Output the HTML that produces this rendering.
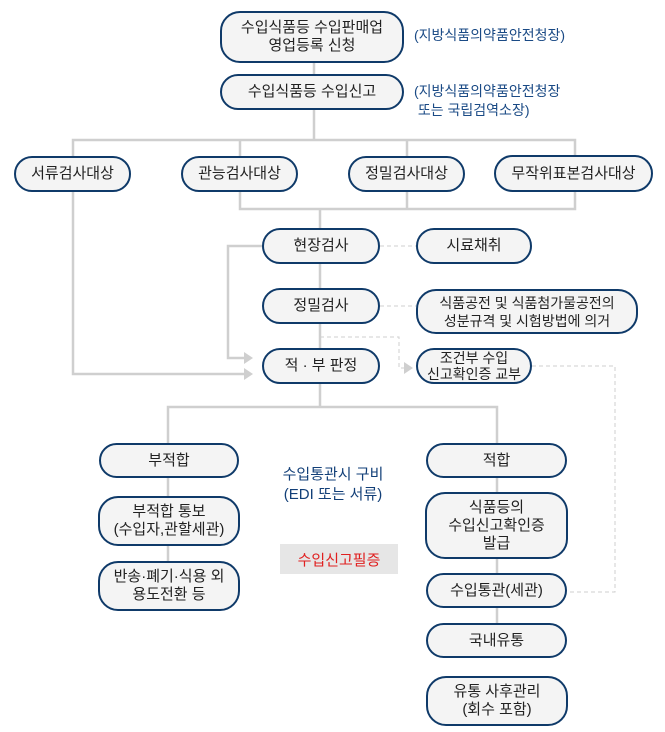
<!DOCTYPE html>
<html><head><meta charset="utf-8"><style>
body{margin:0;width:665px;height:732px;background:#fff;position:relative;overflow:hidden;font-family:"Liberation Sans","Noto Sans CJK KR",sans-serif;}
.b{position:absolute;box-sizing:border-box;border:2.5px solid #0f3a69;background:#f4f4f4;border-radius:20px;display:flex;align-items:center;justify-content:center;text-align:center;font-size:15px;line-height:18px;color:#222;}
.t{position:absolute;font-size:14px;line-height:19px;color:#1a4a85;}
svg{position:absolute;left:0;top:0}
</style></head><body>
<svg width="665" height="732">
<g stroke="#cfcfcf" stroke-width="2.5" fill="none">
<path d="M314 63V74M314 110V140M73 156V140H575V156M240 140V156M407 140V156M240 192V209H575V192M407 192V209M320 209V228M320 264V288M320 324V348"/>
<path d="M262 246H228V358H244M73 192V374H244M320 384V407M168 443V407H497V443M168 478V496M168 546V561M497 478V492M497 559V573M497 608V623"/>
</g>
<g fill="#cfcfcf"><path d="M244 352L253 358L244 364Z"/><path d="M244 368L253 374L244 380Z"/><path d="M404 362L413 368L404 374Z"/></g>
<g stroke="#cfcfcf" stroke-width="1" stroke-dasharray="4,3" fill="none">
<path d="M380 246H416M380 306H416M320 337H399V368H404M532 366H615V592H567"/>
</g>
</svg>
<div class="b" style="left:220px;top:11px;width:184px;height:52px">수입식품등 수입판매업<br>영업등록 신청</div>
<div class="t" style="left:414px;top:26px">(지방식품의약품안전청장)</div>
<div class="b" style="left:220px;top:74px;width:184px;height:36px">수입식품등 수입신고</div>
<div class="t" style="left:414px;top:82px">(지방식품의약품안전청장<br>&nbsp;또는 국립검역소장)</div>
<div class="b" style="left:14px;top:156px;width:117px;height:36px">서류검사대상</div>
<div class="b" style="left:181px;top:156px;width:117px;height:36px">관능검사대상</div>
<div class="b" style="left:348px;top:156px;width:117px;height:36px">정밀검사대상</div>
<div class="b" style="left:494px;top:155px;width:159px;height:37px">무작위표본검사대상</div>
<div class="b" style="left:262px;top:228px;width:118px;height:36px">현장검사</div>
<div class="b" style="left:416px;top:228px;width:116px;height:36px">시료채취</div>
<div class="b" style="left:262px;top:288px;width:118px;height:36px">정밀검사</div>
<div class="b" style="left:416px;top:289px;width:222px;height:45px;font-size:14px">식품공전 및 식품첨가물공전의<br>성분규격 및 시험방법에 의거</div>
<div class="b" style="left:262px;top:348px;width:118px;height:36px">적 · 부 판정</div>
<div class="b" style="left:416px;top:348px;width:116px;height:36px;font-size:14px;line-height:16px">조건부 수입<br>신고확인증 교부</div>
<div class="b" style="left:99px;top:443px;width:140px;height:35px">부적합</div>
<div class="b" style="left:98px;top:496px;width:142px;height:50px">부적합 통보<br>(수입자,관할세관)</div>
<div class="b" style="left:98px;top:561px;width:142px;height:50px">반송·폐기·식용 외<br>용도전환 등</div>
<div class="t" style="left:266px;top:465px;width:134px;text-align:center;font-size:15px;line-height:20px;color:#123f78">수입통관시 구비<br>(EDI 또는 서류)</div>
<div style="position:absolute;left:280px;top:544px;width:118px;height:30px;background:#e6e6e6;color:#e02020;font-size:15px;display:flex;align-items:center;justify-content:center">수입신고필증</div>
<div class="b" style="left:426px;top:443px;width:141px;height:35px">적합</div>
<div class="b" style="left:425px;top:492px;width:143px;height:67px">식품등의<br>수입신고확인증<br>발급</div>
<div class="b" style="left:426px;top:573px;width:141px;height:35px">수입통관(세관)</div>
<div class="b" style="left:426px;top:623px;width:141px;height:35px">국내유통</div>
<div class="b" style="left:426px;top:676px;width:142px;height:50px">유통 사후관리<br>(회수 포함)</div>
</body></html>
